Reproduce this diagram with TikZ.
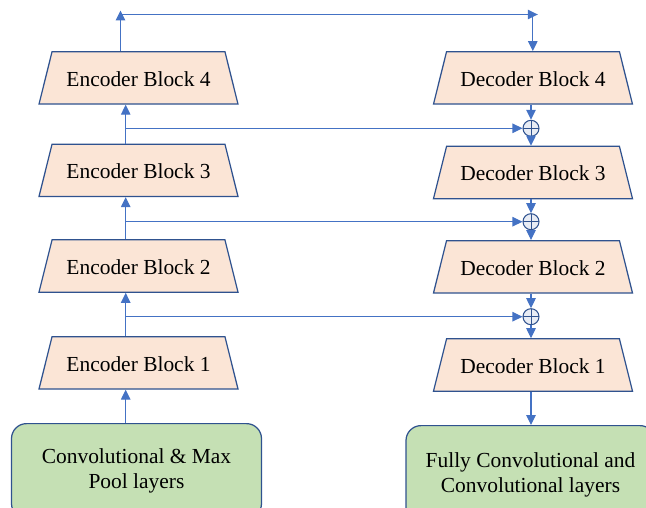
\documentclass[tikz,border=0pt]{standalone}
\usepackage{fontspec}
\setmainfont{Liberation Serif}
\usetikzlibrary{positioning, arrows.meta, shapes.geometric, calc}
\definecolor{blkFill}{RGB}{251,229,214}
\definecolor{blkLine}{RGB}{47,82,143}
\definecolor{arrBlue}{RGB}{68,114,196}
\definecolor{layFill}{RGB}{197,224,180}
\definecolor{sumFill}{RGB}{232,236,244}

\begin{document}
\begin{tikzpicture}[
  blk/.style={trapezium, trapezium stretches body=true, trapezium left angle=76,
    trapezium right angle=76, minimum width=3.98cm, text height=9.5pt,
    text depth=0pt, inner xsep=0pt, inner ysep=10.15pt, fill=blkFill,
    draw=blkLine, line width=0.7pt, font=\fontsize{12.2}{14.5}\selectfont},
  lay/.style={rectangle, rounded corners=0.3cm, anchor=north, align=center,
    minimum width=5.0cm, minimum height=1.9cm, fill=layFill, draw=blkLine,
    line width=0.7pt, font=\fontsize{12.2}{14.5}\selectfont},
  sum/.style={circle, minimum size=0.32cm, inner sep=0pt, fill=sumFill,
    draw=blkLine, line width=0.6pt,
    path picture={\draw[blkLine, line width=0.5pt]
      (path picture bounding box.north) -- (path picture bounding box.south)
      (path picture bounding box.west) -- (path picture bounding box.east);}},
  arr/.style={draw=arrBlue, line width=0.6pt,
    -{Triangle[length=0.2cm, width=0.19cm]}},
]
  \clip (0,0) rectangle (12.92,-10.16);

  % encoder side
  \node[lay] (inl) at (2.73,-8.46) {Convolutional \& Max\\Pool layers};
  \node[blk] (e1) at (2.77,-7.257) {Encoder Block 1};
  \node[blk] (e2) at (2.77,-5.32) {Encoder Block 2};
  \node[blk] (e3) at (2.77,-3.407) {Encoder Block 3};
  \node[blk] (e4) at (2.77,-1.558) {Encoder Block 4};

  % decoder side
  \node[blk] (d4) at (10.66,-1.558) {Decoder Block 4};
  \node[blk] (d3) at (10.66,-3.45) {Decoder Block 3};
  \node[blk] (d2) at (10.66,-5.337) {Decoder Block 2};
  \node[blk] (d1) at (10.66,-7.30) {Decoder Block 1};
  \node[lay, minimum width=4.98cm, minimum height=1.96cm] (outl)
    at (10.61,-8.5) {Fully Convolutional and\\Convolutional layers};

  \node[sum] (s3) at (10.62,-2.566) {};
  \node[sum] (s2) at (10.62,-4.434) {};
  \node[sum] (s1) at (10.62,-6.334) {};

  \coordinate (encx) at (2.514,0);
  \coordinate (topL) at (2.41,-0.29);
  \coordinate (topR) at (10.656,-0.29);

  % up the encoder
  \draw[arr] (inl.north -| encx) -- (e1.south -| encx);
  \draw[arr] (e1.north -| encx) -- (e2.south -| encx);
  \draw[arr] (e2.north -| encx) -- (e3.south -| encx);
  \draw[arr] (e3.north -| encx) -- (e4.south -| encx);

  % bridge
  \draw[arr, shorten >=-0.08cm] (e4.north -| topL) -- (topL);
  \draw[arr, shorten >=-0.1cm] (topL) -- (topR);
  \draw[arr] (topR) -- (d4.north -| topR);

  % skips
  \draw[arr] (s3 -| encx) -- (s3);
  \draw[arr] (s2 -| encx) -- (s2);
  \draw[arr] (s1 -| encx) -- (s1);

  % down the decoder
  \draw[arr] (d4.south -| s3) -- (s3);
  \draw[arr] (s3) -- (d3.north -| s3);
  \draw[arr] (d3.south -| s2) -- (s2);
  \draw[arr] (s2) -- (d2.north -| s2);
  \draw[arr] (d2.south -| s1) -- (s1);
  \draw[arr] (s1) -- (d1.north -| s1);
  \draw[arr] (d1.south -| s1) -- (outl.north -| s1);
\end{tikzpicture}
\end{document}
